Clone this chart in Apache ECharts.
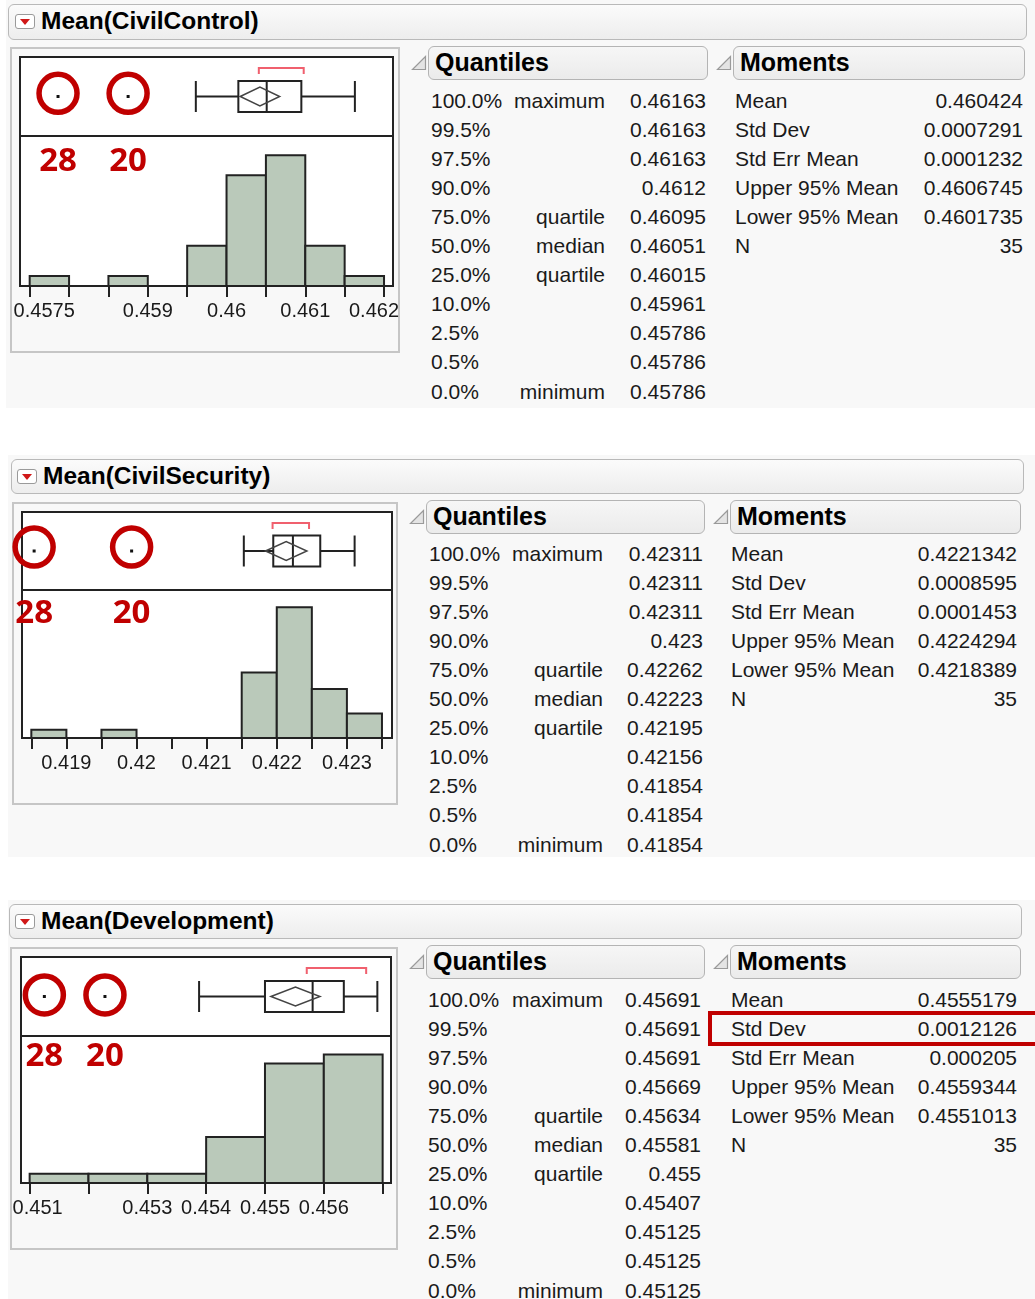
<!DOCTYPE html>
<html>
<head>
<meta charset="utf-8">
<script src="https://cdn.jsdelivr.net/npm/echarts@6/dist/echarts.min.js"></script>
<style>
  body { margin: 0; width: 1035px; height: 1299px; overflow: hidden; position: relative; background: #fff;
         font-family: 'Liberation Sans', Arial, sans-serif; color: #1a1a1a; }
  .abs { position: absolute; }
  .bg { position: absolute; background: #f8f8f8; }
  .hdr { position: absolute; box-sizing: border-box; border: 1px solid #b9b9b9; border-radius: 6px;
         background: linear-gradient(#fbfbfb, #ededed); }
  .title { position: absolute; font-weight: bold; font-size: 24.5px; white-space: nowrap; color: #000; }
  .btn { position: absolute; box-sizing: border-box; width: 20px; height: 15px; border: 1px solid #9a9a9a;
         border-radius: 3px; background: #fff; }
  .btn:after { content: ''; position: absolute; left: 4px; top: 4px; border-left: 5px solid transparent;
               border-right: 5px solid transparent; border-top: 6px solid #d01818; }
  .sub { position: absolute; box-sizing: border-box; border: 1.5px solid #b4b4b4; border-radius: 6px;
         background: linear-gradient(#f6f6f6, #ebebeb); font-weight: bold; font-size: 25px; padding-left: 6px;
         line-height: 31px; color: #000; }
  .box { position: absolute; box-sizing: border-box; border: 2px solid #c6c6c6; background: #f8f8f8; }
  .cell { position: absolute; font-size: 21px; line-height: 28px; height: 28px; white-space: nowrap; }
  .r { text-align: right; }
  #chart { position: absolute; left: 0; top: 0; width: 1035px; height: 1299px; }
</style>
</head>
<body>
<div id="page"></div>
<div id="chart"></div>
<script>
// ---- values ----
const titles = ['Mean(CivilControl)', 'Mean(CivilSecurity)', 'Mean(Development)'];

const quantLevels = ['100.0%', '99.5%', '97.5%', '90.0%', '75.0%', '50.0%', '25.0%', '10.0%', '2.5%', '0.5%', '0.0%'];
const quantNames = ['maximum', '', '', '', 'quartile', 'median', 'quartile', '', '', '', 'minimum'];
const ccQuant = ['0.46163', '0.46163', '0.46163', '0.4612', '0.46095', '0.46051', '0.46015', '0.45961', '0.45786', '0.45786', '0.45786'];
const csQuant = ['0.42311', '0.42311', '0.42311', '0.423', '0.42262', '0.42223', '0.42195', '0.42156', '0.41854', '0.41854', '0.41854'];
const dvQuant = ['0.45691', '0.45691', '0.45691', '0.45669', '0.45634', '0.45581', '0.455', '0.45407', '0.45125', '0.45125', '0.45125'];

const momentNames = ['Mean', 'Std Dev', 'Std Err Mean', 'Upper 95% Mean', 'Lower 95% Mean', 'N'];
const ccMoments = ['0.460424', '0.0007291', '0.0001232', '0.4606745', '0.4601735', '35'];
const csMoments = ['0.4221342', '0.0008595', '0.0001453', '0.4224294', '0.4218389', '35'];
const dvMoments = ['0.4555179', '0.0012126', '0.000205', '0.4559344', '0.4551013', '35'];

// histogram bins (edges) and counts
const ccEdges = [0.4575, 0.458, 0.4585, 0.459, 0.4595, 0.46, 0.4605, 0.461, 0.4615, 0.462];
const ccCounts = [1, 0, 1, 0, 4, 11, 13, 4, 1];
const csEdges = [0.4185, 0.419, 0.4195, 0.42, 0.4205, 0.421, 0.4215, 0.422, 0.4225, 0.423, 0.4235];
const csCounts = [1, 0, 1, 0, 0, 0, 8, 16, 6, 3];
const dvEdges = [0.451, 0.452, 0.453, 0.454, 0.455, 0.456, 0.457];
const dvCounts = [1, 1, 1, 5, 13, 14];

// tick labels
const ccLabels = [0.4575, 0.459, 0.46, 0.461, 0.462];
const csLabels = [0.419, 0.42, 0.421, 0.422, 0.423];
const dvLabels = [0.451, 0.453, 0.454, 0.455, 0.456];

// outlier box plot: low whisker, q1, median, q3, high whisker
const ccBox = [0.45961, 0.46015, 0.46051, 0.46095, 0.46163];
const csBox = [0.42153, 0.42195, 0.42223, 0.42262, 0.42311];
const dvBox = [0.45388, 0.455, 0.45581, 0.45634, 0.45691];
// mean diamond: lower 95%, mean, upper 95%
const ccMeanCI = [0.4601735, 0.460424, 0.4606745];
const csMeanCI = [0.4218389, 0.4221342, 0.4224294];
const dvMeanCI = [0.4551013, 0.4555179, 0.4559344];
// shortest half bracket
const ccHalf = [0.46041, 0.46098];
const csHalf = [0.42194, 0.42246];
const dvHalf = [0.45571, 0.45672];
// outlying points and their row ids
const ccOutliers = [0.45786, 0.45875];
const csOutliers = [0.41854, 0.41993];
const dvOutliers = [0.45125, 0.45228];
const outlierRows = ['28', '20'];

// axis ranges
const ccRange = [0.457377, 0.462114];
const csRange = [0.418367, 0.423643];
const dvRange = [0.450853, 0.457142];
const histMax = [14.9, 18.1, 16];

// ---- layout ----
const panels = [
  { bg: [6, 0, 1029, 408], hdr: [8, 4, 1019, 36], btn: [15, 14], tx: 41,
    box: [10, 47, 390, 306], frame: [20, 57, 393, 136, 286], ringY: 0.46, lblDy: 26, padL: 29, padR: 20,
    q: { hx: 428, hy: 46, hw: 280, pct: 431, name: 605, val: 706, row0: 101 },
    m: { hx: 733, hw: 292, lab: 735, val: 1023 } },
  { bg: [8, 455, 1027, 402], hdr: [11, 459, 1013, 35], btn: [17, 469], tx: 43,
    box: [12, 502, 386, 303], frame: [22, 512, 392, 590, 738], ringY: 0.45, lblDy: 24, padL: 0, padR: 0,
    q: { hx: 426, hy: 500, hw: 279, pct: 429, name: 603, val: 703, row0: 554 },
    m: { hx: 730, hw: 291, lab: 731, val: 1017 } },
  { bg: [8, 900, 1027, 399], hdr: [9, 904, 1013, 35], btn: [15, 914], tx: 41,
    box: [10, 947, 388, 303], frame: [21, 957, 391, 1036, 1183], ringY: 0.48, lblDy: 21, padL: 16, padR: 0,
    q: { hx: 426, hy: 945, hw: 279, pct: 428, name: 603, val: 701, row0: 1000 },
    m: { hx: 730, hw: 291, lab: 731, val: 1017 } }
];

const quantVals = [ccQuant, csQuant, dvQuant];
const momentVals = [ccMoments, csMoments, dvMoments];
const edges = [ccEdges, csEdges, dvEdges];
const counts = [ccCounts, csCounts, dvCounts];
const labels = [ccLabels, csLabels, dvLabels];
const boxes = [ccBox, csBox, dvBox];
const meanCIs = [ccMeanCI, csMeanCI, dvMeanCI];
const halves = [ccHalf, csHalf, dvHalf];
const outliers = [ccOutliers, csOutliers, dvOutliers];
const ranges = [ccRange, csRange, dvRange];

const ROW = 29.05;
const tri = (x, y) =>
  `<svg class="abs" style="left:${x}px;top:${y}px" width="16" height="16"><polygon points="14.5,1.5 14.5,14.5 1.5,14.5" fill="#e4e4e4" stroke="#9a9a9a" stroke-width="1.2"/></svg>`;

let html = '';
panels.forEach((p, i) => {
  html += `<div class="bg" style="left:${p.bg[0]}px;top:${p.bg[1]}px;width:${p.bg[2]}px;height:${p.bg[3]}px"></div>`;
  html += `<div class="hdr" style="left:${p.hdr[0]}px;top:${p.hdr[1]}px;width:${p.hdr[2]}px;height:${p.hdr[3]}px"></div>`;
  html += `<div class="btn" style="left:${p.btn[0]}px;top:${p.btn[1]}px"></div>`;
  html += `<div class="title" style="left:${p.tx}px;top:${p.hdr[1] + 3}px">${titles[i]}</div>`;
  html += `<div class="box" style="left:${p.box[0]}px;top:${p.box[1]}px;width:${p.box[2]}px;height:${p.box[3]}px"></div>`;
  // quantiles
  html += tri(p.q.hx - 17, p.q.hy + 9);
  html += `<div class="sub" style="left:${p.q.hx}px;top:${p.q.hy}px;width:${p.q.hw}px;height:34px">Quantiles</div>`;
  quantLevels.forEach((lv, k) => {
    const y = p.q.row0 + k * ROW - 14;
    html += `<div class="cell" style="left:${p.q.pct}px;top:${y}px">${lv}</div>`;
    if (quantNames[k]) html += `<div class="cell r" style="left:${p.q.name - 120}px;width:120px;top:${y}px">${quantNames[k]}</div>`;
    html += `<div class="cell r" style="left:${p.q.val - 100}px;width:100px;top:${y}px">${quantVals[i][k]}</div>`;
  });
  // moments
  html += tri(p.m.hx - 17, p.q.hy + 9);
  html += `<div class="sub" style="left:${p.m.hx}px;top:${p.q.hy}px;width:${p.m.hw}px;height:34px">Moments</div>`;
  momentNames.forEach((nm, k) => {
    const y = p.q.row0 + k * ROW - 14;
    html += `<div class="cell" style="left:${p.m.lab}px;top:${y}px">${nm}</div>`;
    html += `<div class="cell r" style="left:${p.m.val - 120}px;width:120px;top:${y}px">${momentVals[i][k]}</div>`;
  });
});
// highlight around Development Std Dev
html += `<div class="abs" style="left:708px;top:1011px;width:340px;height:35px;box-sizing:border-box;border:4px solid #c00000"></div>`;
document.getElementById('page').innerHTML = html;

// ---- chart ----
const fmtNum = v => String(+v.toFixed(6));

const grid = [], xAxis = [], yAxis = [], series = [];
panels.forEach((p, i) => {
  const f = p.frame;
  const gTop = { left: f[0], top: f[1], width: f[2] - f[0], height: f[3] - f[1] };
  const gHist = { left: f[0], top: f[3], width: f[2] - f[0], height: f[4] - f[3] };
  [gTop, gHist].forEach(g => grid.push(Object.assign(g, {
    show: true, backgroundColor: '#fff', borderColor: '#222', borderWidth: 2,
    containLabel: false, outerBoundsMode: 'none'
  })));
  const gi = i * 2;
  const lab = labels[i];
  xAxis.push({ gridIndex: gi, type: 'value', min: ranges[i][0], max: ranges[i][1], show: false });
  xAxis.push({
    gridIndex: gi + 1, type: 'value', min: ranges[i][0], max: ranges[i][1],
    axisLine: { show: false }, splitLine: { show: false },
    axisTick: { show: true, customValues: edges[i], length: 11, lineStyle: { color: '#222', width: 2 } },
    axisLabel: {
      customValues: lab, margin: 15, hideOverlap: false,
      fontSize: 20, color: '#1a1a1a', fontFamily: 'Liberation Sans',
      formatter: function (v) {
        const t = fmtNum(v);
        if (p.padL && Math.abs(v - lab[0]) < 1e-9) return '{l|' + t + '}';
        if (p.padR && Math.abs(v - lab[lab.length - 1]) < 1e-9) return '{r|' + t + '}';
        return t;
      },
      rich: {
        l: { fontSize: 20, color: '#1a1a1a', fontFamily: 'Liberation Sans', padding: [0, 0, 0, p.padL] },
        r: { fontSize: 20, color: '#1a1a1a', fontFamily: 'Liberation Sans', padding: [0, p.padR, 0, 0] }
      }
    }
  });
  yAxis.push({ gridIndex: gi, type: 'value', min: 0, max: 1, inverse: true, show: false });
  yAxis.push({ gridIndex: gi + 1, type: 'value', min: 0, max: histMax[i], show: false });

  // histogram bars
  const bins = [];
  counts[i].forEach((n, k) => { if (n > 0) bins.push([edges[i][k], edges[i][k + 1], n]); });
  series.push({
    type: 'custom', xAxisIndex: gi + 1, yAxisIndex: gi + 1, data: bins,
    encode: { x: [0, 1], y: 2 },
    renderItem: function (params, api) {
      const a = api.coord([api.value(0), api.value(2)]);
      const b = api.coord([api.value(1), 0]);
      return { type: 'rect', shape: { x: a[0], y: a[1], width: b[0] - a[0], height: b[1] - a[1] },
               style: { fill: '#bac9ba', stroke: '#222', lineWidth: 2 } };
    }
  });

  // outlier box plot
  const bx = boxes[i], ci = meanCIs[i], hf = halves[i];
  series.push({
    type: 'custom', xAxisIndex: gi, yAxisIndex: gi, data: [[bx[2], 0.5]], clip: false,
    renderItem: function (params, api) {
      const cs = params.coordSys;
      const X = v => api.coord([v, 0.5])[0];
      const mid = api.coord([bx[2], 0.5])[1];
      const top = mid - 15.5, bot = mid + 15.5;
      const ln = { stroke: '#222', lineWidth: 2 };
      const line = (x1, y1, x2, y2, st) => ({ type: 'line', shape: { x1, y1, x2, y2 }, style: st || ln });
      const by = cs.y + 11;
      return { type: 'group', children: [
        line(X(bx[0]), mid, X(bx[1]), mid),
        line(X(bx[3]), mid, X(bx[4]), mid),
        line(X(bx[0]), top, X(bx[0]), bot),
        line(X(bx[4]), top, X(bx[4]), bot),
        { type: 'rect', shape: { x: X(bx[1]), y: top, width: X(bx[3]) - X(bx[1]), height: bot - top },
          style: { fill: 'none', stroke: '#222', lineWidth: 2 } },
        line(X(bx[2]), top, X(bx[2]), bot),
        { type: 'polygon', shape: { points: [[X(ci[0]), mid], [X(ci[1]), mid - 9.5], [X(ci[2]), mid], [X(ci[1]), mid + 9.5]] },
          style: { fill: 'none', stroke: '#444', lineWidth: 1.5 } },
        { type: 'polyline', shape: { points: [[X(hf[0]), by + 6], [X(hf[0]), by], [X(hf[1]), by], [X(hf[1]), by + 6]] },
          style: { fill: 'none', stroke: '#f0606e', lineWidth: 2 } }
      ] };
    }
  });

  // outlying points
  series.push({
    type: 'scatter', xAxisIndex: gi, yAxisIndex: gi, clip: false, symbol: 'rect', symbolSize: 3,
    itemStyle: { color: '#111', opacity: 1 }, data: outliers[i].map(v => [v, 0.5])
  });
  // red rings round the outliers
  series.push({
    type: 'scatter', xAxisIndex: gi, yAxisIndex: gi, clip: false, symbol: 'circle', symbolSize: 38,
    itemStyle: { color: 'rgba(0,0,0,0)', borderColor: '#c00000', borderWidth: 5.5, opacity: 1 }, z: 5,
    data: outliers[i].map(v => [v, p.ringY])
  });
  // row ids under the rings
  series.push({
    type: 'scatter', xAxisIndex: gi + 1, yAxisIndex: gi + 1, clip: false, symbolSize: 1,
    itemStyle: { color: 'rgba(0,0,0,0)', opacity: 1 }, z: 5,
    data: outliers[i].map(v => [v, histMax[i]]),
    label: {
      show: true, position: 'inside', offset: [0, p.lblDy], opacity: 1,
      formatter: d => outlierRows[d.dataIndex],
      fontFamily: 'Open Sans', fontWeight: 'bold', fontSize: 33, color: '#c00000'
    }
  });
});

const myChart = echarts.init(document.getElementById('chart'), null, { renderer: 'canvas' });
myChart.setOption({
  animation: false,
  backgroundColor: 'transparent',
  grid: grid, xAxis: xAxis, yAxis: yAxis, series: series
});
</script>
</body>
</html>
